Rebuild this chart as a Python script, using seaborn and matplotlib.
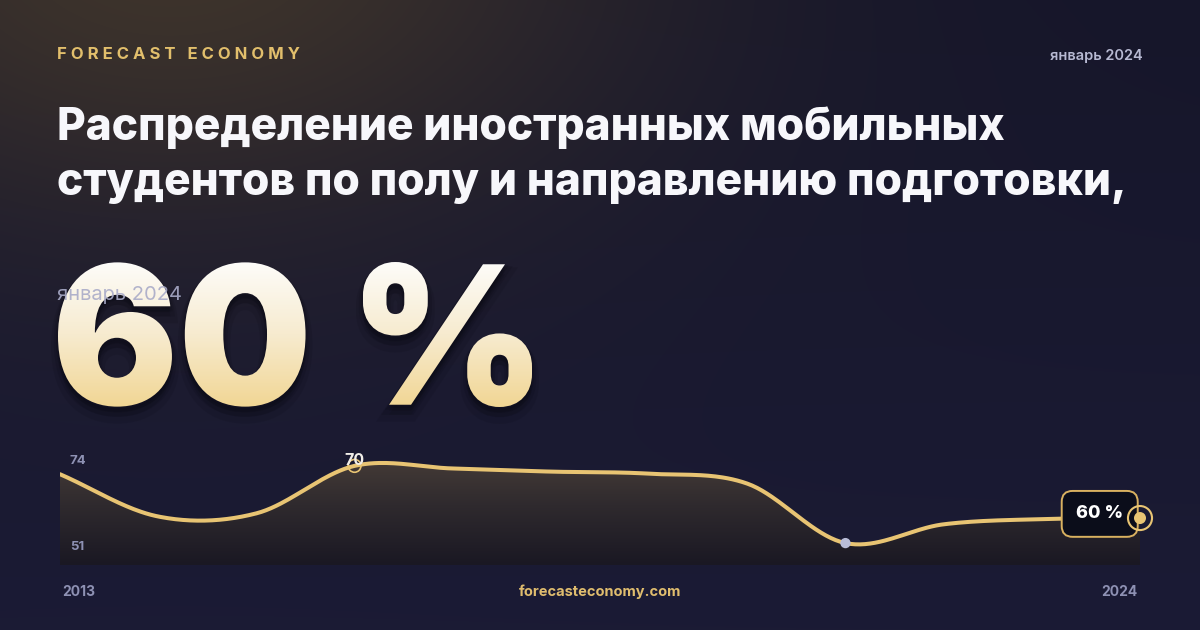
import numpy as np
import pandas as pd
import matplotlib
matplotlib.use("Agg")
import matplotlib.pyplot as plt
import seaborn as sns
from matplotlib.textpath import TextPath
from matplotlib.font_manager import FontProperties
from matplotlib.patches import PathPatch, Polygon
from matplotlib.transforms import Affine2D
from matplotlib.colors import LinearSegmentedColormap

# ---------------- data ----------------
years = [2013, 2014, 2015, 2016, 2017, 2018, 2019, 2020, 2021, 2022, 2023, 2024]
values = [68.4, 60.3, 60.9, 70.0, 69.5, 68.9, 68.5, 66.6, 55.2, 58.8, 59.8, 60.0]
y_bounds = [51, 74]
title_lines = ["Распределение иностранных мобильных",
               "студентов по полу и направлению подготовки,"]
brand = "F O R E C A S T   E C O N O M Y"
date_label = "январь 2024"
headline_value = "60 %"
site = "forecasteconomy.com"
x_labels = ["2013", "2024"]

GOLD = "#e8c473"
GRAY = "#8e91b3"
W, H = 1200, 630

sns.set_theme(style="dark")
plt.rcParams["font.family"] = ["Inter", "DejaVu Sans"]

fig = plt.figure(figsize=(12, 6.3), dpi=100)

# ---------------- background ----------------
ax_bg = fig.add_axes([0, 0, 1, 1])
ax_bg.set_axis_off()
yy, xx = np.mgrid[0:H, 0:W]
base_top = np.array([22, 22, 42])
base_bot = np.array([27, 27, 53])
t = (yy / H)[..., None]
bg = base_top * (1 - t) + base_bot * t
warm = np.array([62, 52, 44])
d2 = ((xx - 170) ** 2 + ((yy + 60) * 1.6) ** 2)[..., None]
g = np.exp(-d2 / (2 * 330.0 ** 2))
bg = bg * (1 - g) + warm * g
ax_bg.imshow(bg.astype(np.uint8), extent=[0, W, H, 0], aspect="auto", zorder=0)

# header texts
ax_bg.text(57, 59, brand, color="#e2bf6c", fontsize=12, fontweight="bold", va="baseline", ha="left", zorder=3)
ax_bg.text(1143, 60, date_label, color="#b7b9d2", fontsize=10.5, fontweight="semibold", va="baseline", ha="right", zorder=3)
ax_bg.text(57, 140, title_lines[0], color="#f7f7fb", fontsize=31.9, fontweight="heavy", va="baseline", ha="left", zorder=3)
ax_bg.text(57, 195, title_lines[1], color="#f7f7fb", fontsize=31.9, fontweight="heavy", va="baseline", ha="left", zorder=3)

# big gradient number
fp = FontProperties(family="Inter", weight="black")
tp = TextPath((0, 0), headline_value, size=200, prop=fp)
ext = tp.get_extents()
s = (407 - 262) / ext.height
sxw = (532 - 58) / (ext.width * s)
path = Affine2D().translate(-ext.x0, -ext.y0).scale(s * sxw, -s).translate(58, 407).transform_path(tp)
for off, a in [(10, 0.10), (6, 0.12), (3, 0.15)]:
    sh = Affine2D().translate(0, off).transform_path(path)
    ax_bg.add_patch(PathPatch(sh, fc="#05050c", ec="#05050c", lw=off, alpha=a, zorder=2))
patch = PathPatch(path, fc="none", ec="none", transform=ax_bg.transData)
ax_bg.add_patch(patch)
tcm = LinearSegmentedColormap.from_list("t", ["#fdfcf9", "#f7ebcf", "#f1d694"])
bb = path.get_extents()
im_t = ax_bg.imshow(np.linspace(0, 1, 256).reshape(-1, 1), cmap=tcm, aspect="auto",
                    extent=[bb.x0, bb.x1, bb.y1, bb.y0], origin="upper", zorder=3)
im_t.set_clip_path(patch)
ax_bg.text(57, 295, date_label, color="#a9abc8", fontsize=14.5, va="center", ha="left", alpha=0.9, zorder=4)
ax_bg.text(W / 2, 592, site, color="#e0bd6e", fontsize=10.5, fontweight="bold", va="center", ha="center", zorder=3)
ax_bg.set_xlim(0, W)
ax_bg.set_ylim(H, 0)

# ---------------- chart ----------------
ax = fig.add_axes([60 / W, 65 / H, 1080 / W, 120 / H])
ax.set_axis_off()


def smooth(xs, ys, n=40):
    xs = np.asarray(xs, float)
    ys = np.asarray(ys, float)
    m = np.gradient(ys, xs)
    ox, oy = [], []
    for i in range(len(xs) - 1):
        h = xs[i + 1] - xs[i]
        tt = np.linspace(0, 1, n, endpoint=False)
        h00 = 2 * tt**3 - 3 * tt**2 + 1
        h10 = tt**3 - 2 * tt**2 + tt
        h01 = -2 * tt**3 + 3 * tt**2
        h11 = tt**3 - tt**2
        ox.append(xs[i] + tt * h)
        oy.append(h00 * ys[i] + h10 * h * m[i] + h01 * ys[i + 1] + h11 * h * m[i + 1])
    ox.append([xs[-1]])
    oy.append([ys[-1]])
    return np.concatenate(ox), np.concatenate(oy)


sx, sy = smooth(years, values)
curve = pd.DataFrame({"year": sx, "value": sy})

fcm = LinearSegmentedColormap.from_list("f", ["#1a1823", "#2f2a2e", "#4b4039"])
im = ax.imshow(np.linspace(1, 0, 256).reshape(-1, 1), cmap=fcm, aspect="auto",
               extent=[years[0], years[-1], y_bounds[0], y_bounds[1]], origin="upper", zorder=1)
poly = Polygon(np.column_stack([np.r_[sx, sx[-1], sx[0]], np.r_[sy, y_bounds[0], y_bounds[0]]]),
               closed=True, transform=ax.transData)
im.set_clip_path(poly)

sns.lineplot(data=curve, x="year", y="value", ax=ax, color=GOLD, linewidth=2.9, zorder=3, sort=False)

imax = int(np.argmax(values))
imin = int(np.argmin(values))
ax.scatter([years[imax]], [values[imax]], s=85, facecolors="none", edgecolors=GOLD, linewidths=1.2, zorder=5,
           clip_on=False)
ax.annotate(f"{values[imax]:.0f}", xy=(years[imax], values[imax]), xytext=(0, 3.8), textcoords="offset points",
            ha="center", va="center", fontsize=11.5, fontweight="bold", color="#f1eee8", zorder=6)
sns.scatterplot(x=[years[imin]], y=[values[imin]], ax=ax, s=55, color="#b9bdd8", edgecolor="none", zorder=5,
                clip_on=False)

# callout for the last value
ax.annotate(f"{values[-1]:.0f} %", xy=(years[-1], values[-1]), xytext=(-29, 3), textcoords="offset points",
            ha="center", va="center", fontsize=13, fontweight="heavy", color="#ffffff", zorder=6,
            annotation_clip=False,
            bbox=dict(boxstyle="round,pad=0.8,rounding_size=0.6", fc="#0b0d1a", ec="#d9b160", lw=1.4))
ax.scatter([years[-1]], [values[-1]], s=300, facecolors="none", edgecolors=GOLD, linewidths=1.5, zorder=7,
           clip_on=False)
ax.scatter([years[-1]], [values[-1]], s=75, color=GOLD, edgecolors="none", zorder=8, clip_on=False)

# bound labels
ax.annotate(f"{y_bounds[1]}", xy=(years[0], y_bounds[1]), xytext=(7, -11.5), textcoords="offset points",
            ha="left", va="center", fontsize=9.5, fontweight="bold", color=GRAY)
ax.annotate(f"{y_bounds[0]}", xy=(years[0], y_bounds[0]), xytext=(7, 13), textcoords="offset points",
            ha="left", va="center", fontsize=9.5, fontweight="bold", color=GRAY)
ax.annotate(x_labels[0], xy=(years[0], y_bounds[0]), xytext=(1.5, -19.5), textcoords="offset points",
            ha="left", va="center", fontsize=10, fontweight="bold", color=GRAY, annotation_clip=False)
ax.annotate(x_labels[1], xy=(years[-1], y_bounds[0]), xytext=(-1.5, -19.5), textcoords="offset points",
            ha="right", va="center", fontsize=10, fontweight="bold", color=GRAY, annotation_clip=False)

ax.set_xlim(years[0], years[-1])
ax.set_ylim(y_bounds[0], y_bounds[1])

fig.savefig("out.png", dpi=100)
